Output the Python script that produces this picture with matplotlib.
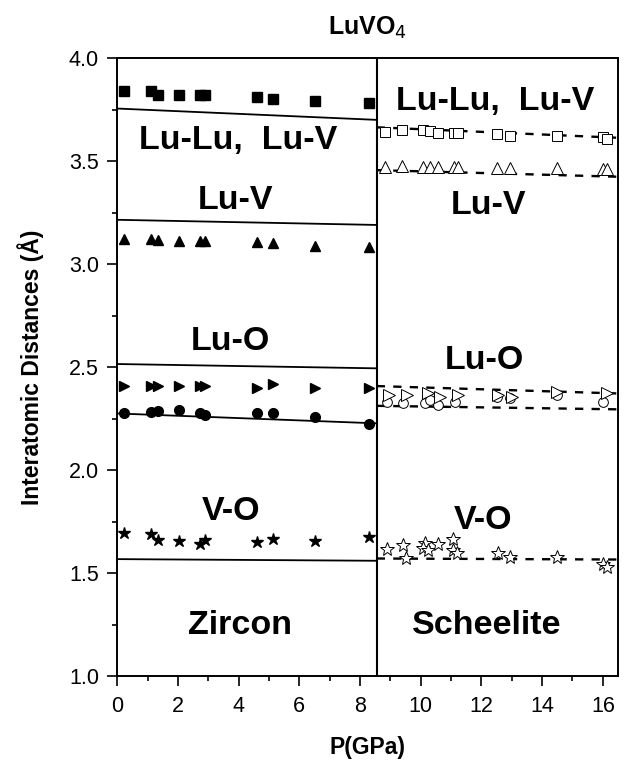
import numpy as np
import matplotlib.pyplot as plt

plt.rcParams['font.family'] = ['Liberation Sans', 'DejaVu Sans']

# zircon phase (filled symbols)
p_zir = [0.21, 1.11, 1.36, 2.04, 2.73, 2.90, 4.60, 5.12, 6.52, 8.31]
lulu_zir = [3.84, 3.84, 3.82, 3.82, 3.82, 3.82, 3.81, 3.80, 3.79, 3.78]
luv_zir = [3.12, 3.12, 3.115, 3.11, 3.11, 3.11, 3.105, 3.10, 3.09, 3.085]
luo1_zir = [2.41, 2.41, 2.41, 2.41, 2.41, 2.41, 2.397, 2.416, 2.397, 2.40]
luo2_zir = [2.278, 2.28, 2.285, 2.29, 2.278, 2.267, 2.275, 2.275, 2.259, 2.223]
vo_zir = [1.693, 1.69, 1.66, 1.657, 1.641, 1.66, 1.65, 1.665, 1.655, 1.673]

# scheelite phase (open symbols)
p_sch_sq = [8.83, 9.38, 10.09, 10.31, 10.58, 11.08, 11.24, 12.50, 12.94, 14.48, 16.02, 16.15]
lulu_sch = [3.642, 3.65, 3.65, 3.647, 3.637, 3.634, 3.634, 3.63, 3.621, 3.623, 3.615, 3.607]
luv_sch = [3.47, 3.475, 3.47, 3.47, 3.47, 3.47, 3.47, 3.465, 3.465, 3.465, 3.46, 3.46]
p_sch_tr = [8.94, 9.54, 10.25, 10.64, 11.24, 12.56, 13.00, 14.48, 16.13]
luo1_sch = [2.364, 2.364, 2.372, 2.356, 2.364, 2.364, 2.356, 2.38, 2.372]
p_sch_ci = [8.88, 9.43, 10.14, 10.31, 10.58, 11.13, 12.50, 12.94, 14.48, 16.02]
luo2_sch = [2.332, 2.328, 2.325, 2.34, 2.316, 2.332, 2.356, 2.348, 2.364, 2.332]
p_sch_st = [8.88, 9.43, 9.52, 10.14, 10.09, 10.25, 10.58, 11.06, 11.06, 11.21, 12.56, 12.94, 14.50, 16.02, 16.15]
vo_sch = [1.615, 1.636, 1.571, 1.647, 1.62, 1.612, 1.639, 1.664, 1.612, 1.596, 1.599, 1.576, 1.576, 1.544, 1.532]

# calculated curves (start / end of each phase range)
p_trans = 8.55
p_max = 16.5
calc_zir = {'lulu': [3.755, 3.70], 'luv': [3.215, 3.19], 'luo1': [2.515, 2.494],
            'luo2': [2.275, 2.227], 'vo': [1.568, 1.56]}
calc_sch = {'lulu': [3.664, 3.613], 'luv': [3.456, 3.424], 'luo1': [2.408, 2.372],
            'luo2': [2.312, 2.295], 'vo': [1.571, 1.566]}

fig = plt.figure(figsize=(6.3, 7.64), dpi=100)
ax = fig.add_axes([0.186, 0.115, 0.795, 0.809])

# fitted lines
for k in calc_zir:
    ax.plot([0, p_trans], calc_zir[k], color='k', lw=1.3)
    ax.plot([p_trans, p_max], calc_sch[k], color='k', lw=1.7, ls=(0, (3.5, 3.5)))

# zircon points
ax.plot(p_zir, lulu_zir, 's', color='k', ms=6.5, ls='none')
ax.plot(p_zir, luv_zir, '^', color='k', ms=7.5, ls='none')
ax.plot(p_zir, luo1_zir, '>', color='k', ms=7.5, ls='none')
ax.plot(p_zir, luo2_zir, 'o', color='k', ms=7, ls='none')
ax.plot(p_zir, vo_zir, '*', color='k', ms=9, ls='none')

# scheelite points
op = dict(mfc='white', mec='k', mew=0.7, ls='none')
ax.plot(p_sch_sq, lulu_sch, 's', ms=6.5, **op)
ax.plot(p_sch_sq, luv_sch, '^', ms=8, **op)
ax.plot(p_sch_ci, luo2_sch, 'o', ms=7, **op)
ax.plot(p_sch_tr, luo1_sch, '>', ms=8, **op)
ax.plot(p_sch_st, vo_sch, '*', ms=10, **op)

ax.axvline(p_trans, color='k', lw=1.5)

# labels inside
tk = dict(fontsize=24.5, fontweight='bold', ha='center', va='center')
ax.text(3.99, 3.60, 'Lu-Lu,  Lu-V', **tk)
ax.text(3.91, 3.307, 'Lu-V', **tk)
ax.text(3.72, 2.623, 'Lu-O', **tk)
ax.text(3.75, 1.797, 'V-O', **tk)
ax.text(4.05, 1.248, 'Zircon', **tk)
ax.text(12.45, 3.788, 'Lu-Lu,  Lu-V', **tk)
ax.text(12.23, 3.286, 'Lu-V', **tk)
ax.text(12.09, 2.534, 'Lu-O', **tk)
ax.text(12.04, 1.757, 'V-O', **tk)
ax.text(12.18, 1.248, 'Scheelite', **tk)

ax.set_xlim(0, p_max)
ax.set_ylim(1.0, 4.0)
ax.set_xticks(np.arange(0, 17, 2))
ax.set_xticks(np.arange(1, 17, 2), minor=True)
ax.set_yticks(np.arange(1.0, 4.01, 0.5))
ax.set_yticks(np.arange(1.25, 4.0, 0.5), minor=True)
ax.set_yticklabels(['%.1f' % v for v in np.arange(1.0, 4.01, 0.5)])
ax.tick_params(which='major', direction='out', length=7, width=1.2, labelsize=15.5, pad=6)
ax.tick_params(which='minor', direction='out', length=3.5, width=1.2)
ax.tick_params(axis='x', which='major', pad=7)
for s in ax.spines.values():
    s.set_linewidth(1.4)

ax.set_xlabel('P(GPa)', fontsize=16.5, fontweight='bold', labelpad=14)
ax.set_ylabel('Interatomic Distances (Å)', fontsize=16.5, fontweight='bold', labelpad=18)
ax.set_title('LuVO$_4$', fontsize=18, fontweight='bold', pad=17)

fig.savefig('out.png', dpi=100)
